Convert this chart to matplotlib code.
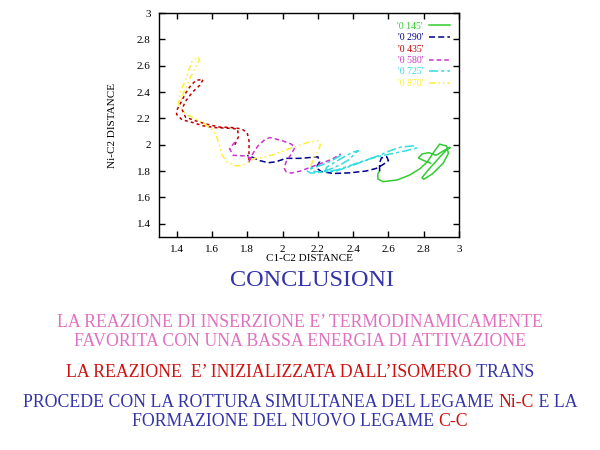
import matplotlib
matplotlib.use("Agg")
from matplotlib import pyplot as plt
from matplotlib.lines import Line2D

SERIF = "Liberation Serif"

# trajectory pieces (C1-C2 distance, Ni-C2 distance)
green_x = [2.55, 2.54, 2.54, 2.57, 2.65, 2.72, 2.78, 2.82, 2.86, 2.89, 2.93, 2.94, 2.91, 2.85,
           2.80, 2.79, 2.82, 2.86, 2.90, 2.94, 2.95, 2.92, 2.87, 2.83, 2.79, 2.77, 2.80, 2.84]
green_y = [1.80, 1.78, 1.74, 1.72, 1.733, 1.77, 1.82, 1.87, 1.95, 2.005, 1.99, 1.935, 1.86, 1.78,
           1.738, 1.75, 1.80, 1.86, 1.92, 1.975, 1.98, 1.96, 1.92, 1.94, 1.93, 1.90, 1.88, 1.86]

blue_x = [2.55, 2.55, 2.56, 2.59, 2.60, 2.57, 2.53, 2.47, 2.38, 2.29, 2.22, 2.19, 2.21, 2.20,
          2.17, 2.10, 2.02, 1.96, 1.92, 1.87, 1.83, 1.80]
blue_y = [1.80, 1.86, 1.90, 1.91, 1.88, 1.85, 1.82, 1.80, 1.787, 1.782, 1.796, 1.826, 1.871, 1.909,
          1.905, 1.897, 1.897, 1.87, 1.864, 1.88, 1.905, 1.92]

red_x = [1.73, 1.75, 1.745, 1.70, 1.62, 1.55, 1.49, 1.43, 1.40, 1.40, 1.42, 1.45, 1.48, 1.51, 1.55,
         1.53, 1.49, 1.45, 1.43, 1.45, 1.50, 1.56, 1.64, 1.72, 1.77, 1.80, 1.81, 1.81, 1.81]
red_y = [2.00, 2.06, 2.12, 2.125, 2.13, 2.144, 2.169, 2.19, 2.23, 2.26, 2.31, 2.39, 2.45, 2.49, 2.495,
         2.45, 2.40, 2.33, 2.27, 2.21, 2.185, 2.16, 2.135, 2.13, 2.12, 2.09, 2.03, 1.95, 1.87]

magenta_x = [1.73, 1.70, 1.72, 1.79, 1.82, 1.81, 1.83, 1.86, 1.90, 1.93, 2.00, 2.05, 2.07, 2.05,
             2.02, 2.01, 2.02, 2.05, 2.10, 2.16, 2.22, 2.28, 2.33]
magenta_y = [2.02, 1.97, 1.92, 1.915, 1.90, 1.87, 1.93, 1.99, 2.04, 2.055, 2.03, 2.005, 1.98, 1.93,
             1.87, 1.82, 1.795, 1.785, 1.80, 1.83, 1.86, 1.89, 1.93]

cyan_x = [2.33, 2.28, 2.22, 2.17, 2.14, 2.16, 2.21, 2.27, 2.33, 2.38, 2.41, 2.43, 2.40, 2.35, 2.30,
          2.25, 2.24, 2.30, 2.37, 2.45, 2.53, 2.61, 2.67, 2.74, 2.76, 2.70, 2.61, 2.51, 2.41, 2.31,
          2.23, 2.17, 2.16]
cyan_y = [1.92, 1.88, 1.845, 1.825, 1.80, 1.785, 1.79, 1.815, 1.85, 1.89, 1.935, 1.955, 1.945, 1.91,
          1.87, 1.83, 1.80, 1.80, 1.83, 1.87, 1.91, 1.955, 1.982, 1.992, 1.975, 1.955, 1.93, 1.90,
          1.855, 1.81, 1.79, 1.80, 1.83]

yellow_x = [2.16, 2.18, 2.20, 2.215, 2.20, 2.15, 2.10, 2.02, 1.96, 1.89, 1.84, 1.80, 1.77, 1.73,
            1.68, 1.655, 1.64, 1.625, 1.60, 1.56, 1.51, 1.46, 1.436, 1.41, 1.423, 1.455, 1.483,
            1.52, 1.53, 1.50, 1.464, 1.436, 1.42]
yellow_y = [1.84, 1.90, 1.95, 2.00, 2.03, 2.02, 2.00, 1.962, 1.93, 1.904, 1.897, 1.865, 1.841, 1.841,
            1.874, 1.93, 2.005, 2.068, 2.12, 2.157, 2.195, 2.227, 2.258, 2.31, 2.41, 2.51, 2.625,
            2.667, 2.645, 2.573, 2.472, 2.384, 2.32]

labels = ["'0 145'", "'0 290'", "'0 435'", "'0 580'", "'0 725'", "'0 870'"]
colors = ["#33cc33", "#000088", "#c00000", "#cc33cc", "#33dddd", "#ffee33"]
styles = ["-", (0, (4, 2)), (0, (2, 2)), (0, (3, 2)), (0, (6, 2, 2, 2)), (0, (4, 2, 1, 2, 1, 2))]

x_ticks = [1.4, 1.6, 1.8, 2, 2.2, 2.4, 2.6, 2.8, 3]
y_ticks = [1.4, 1.6, 1.8, 2, 2.2, 2.4, 2.6, 2.8, 3]
x_tick_labels = ["1.4", "1.6", "1.8", "2", "2.2", "2.4", "2.6", "2.8", "3"]
y_tick_labels = ["1.4", "1.6", "1.8", "2", "2.2", "2.4", "2.6", "2.8", "3"]


def colored_line(fig, y, parts, size, center=0.5):
    renderer = fig.canvas.get_renderer()
    texts = []
    widths = []
    for s, c in parts:
        t = fig.text(0, y, s, color=c, fontsize=size, family=SERIF, ha="left", va="baseline")
        texts.append(t)
        widths.append(t.get_window_extent(renderer).width)
    fig_w = fig.get_figwidth() * fig.dpi
    x = center * fig_w - sum(widths) / 2
    for t, w in zip(texts, widths):
        t.set_x(x / fig_w)
        x += w


def main():
    fig = plt.figure(figsize=(6, 4.5), dpi=100)
    ax = fig.add_axes([0.265, 0.4733, 0.5, 0.4978])

    series = [(green_x, green_y), (blue_x, blue_y), (red_x, red_y),
              (magenta_x, magenta_y), (cyan_x, cyan_y), (yellow_x, yellow_y)]
    handles = []
    for (xs, ys), lab, col, ls in zip(series, labels, colors, styles):
        ax.plot(xs, ys, color=col, linestyle=ls, linewidth=1.1)
        if lab == "'0 435'":
            handles.append(Line2D([], [], color=col, linestyle="None", label=lab))
        else:
            handles.append(Line2D([], [], color=col, linestyle=ls, linewidth=1.1, label=lab))

    ax.set_xlim(1.3, 3)
    ax.set_ylim(1.3, 3)
    ax.set_xticks(x_ticks)
    ax.set_xticklabels(x_tick_labels)
    ax.set_yticks(y_ticks)
    ax.set_yticklabels(y_tick_labels)
    ax.tick_params(direction="in", length=4, width=1, top=True, right=True,
                   labelsize=8, pad=6)
    for lab in ax.get_xticklabels() + ax.get_yticklabels():
        lab.set_family(SERIF)
    for sp in ax.spines.values():
        sp.set_linewidth(1)

    ax.set_xlabel("C1-C2 DISTANCE", fontsize=8, family=SERIF, labelpad=0)
    ax.set_ylabel("Ni-C2 DISTANCE", fontsize=8, family=SERIF, labelpad=14)

    leg = ax.legend(handles=handles, loc="upper right", frameon=False, markerfirst=False,
                    fontsize=7, labelcolor="linecolor", handlelength=2.2,
                    labelspacing=0.25, borderaxespad=0.5, handletextpad=0.6)
    for t in leg.get_texts():
        t.set_family(SERIF)

    pink = "#e070c0"
    red = "#cc1111"
    blue = "#3333aa"
    colored_line(fig, 1 - 286 / 450, [("CONCLUSIONI", blue)], 17.5, center=0.52)
    colored_line(fig, 1 - 327 / 450, [("LA REAZIONE DI INSERZIONE E’ TERMODINAMICAMENTE", pink)], 12.8)
    colored_line(fig, 1 - 346 / 450, [("FAVORITA CON UNA BASSA ENERGIA DI ATTIVAZIONE", pink)], 12.8)
    colored_line(fig, 1 - 377 / 450, [("LA REAZIONE  E’ INIZIALIZZATA DALL’ISOMERO", red),
                                      (" TRANS", blue)], 12.8)
    colored_line(fig, 1 - 407 / 450, [("PROCEDE CON LA ROTTURA SIMULTANEA DEL LEGAME ", blue),
                                      ("Ni-C", red), (" E LA", blue)], 12.8)
    colored_line(fig, 1 - 426 / 450, [("FORMAZIONE DEL NUOVO LEGAME ", blue), ("C-C", red)], 12.8)

    fig.savefig("out.png", dpi=100)


if __name__ == "__main__":
    main()
